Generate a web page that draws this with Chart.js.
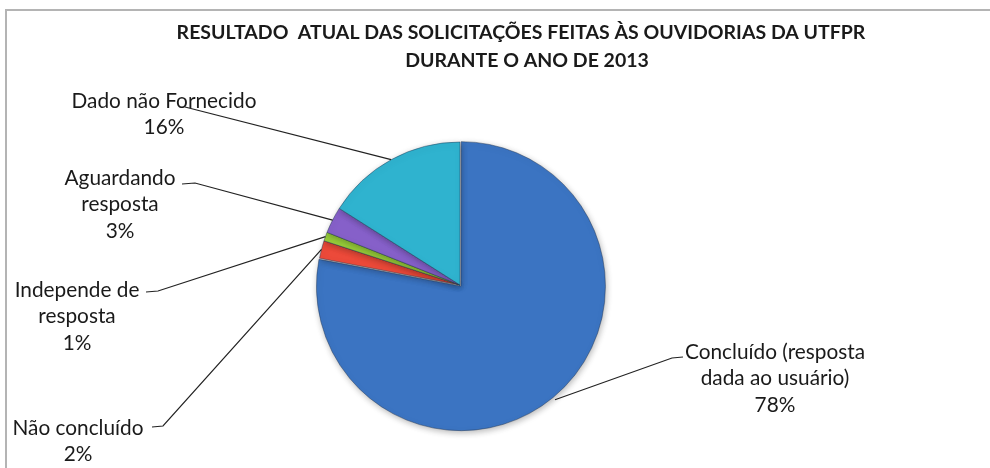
<!DOCTYPE html>
<html>
<head>
<meta charset="utf-8">
<script src="https://cdn.jsdelivr.net/npm/chart.js@4.4.0/dist/chart.umd.min.js"></script>
<style>
  html, body { margin: 0; padding: 0; background: #ffffff; }
  #wrap { width: 990px; height: 468px; position: relative; }
</style>
</head>
<body>
<div id="wrap"><canvas id="pieChart" width="990" height="468"></canvas></div>
<script>
// Chart data
const categories = [
    'Concluído (resposta dada ao usuário)',
    'Não concluído',
    'Independe de resposta',
    'Aguardando resposta',
    'Dado não Fornecido'
];
const percentages = [78, 2, 1, 3, 16];
const sliceColors = ['#3b74c2', '#ec4a3a', '#98cf3a', '#8660c9', '#2fb3cf'];
const titleLines = [
    'RESULTADO  ATUAL DAS SOLICITAÇÕES FEITAS ÀS OUVIDORIAS DA UTFPR',
    'DURANTE O ANO DE 2013'
];
// category names split the way they are printed next to the pie
const labelLines = [
    ['Concluído (resposta', 'dada ao usuário)'],
    ['Não concluído'],
    ['Independe de', 'resposta'],
    ['Aguardando', 'resposta'],
    ['Dado não Fornecido']
];

// Layout
const PIE_X = 460, PIE_Y = 285, PIE_R = 143;
const SLICE_BORDER = 1;
const SLICE_OFFSET = [6, 0, 0, 0, 0];
const LINE_HEIGHT = 26.5;
const LABEL_FONT = '20.8px Lato, "Open Sans", sans-serif';
const TITLE_FONT = 'bold 19.5px Lato, "Open Sans", sans-serif';

// text centre x, first line centre y, leader elbow and leader end
const labelLayout = [
    { x: 775, y: 352, elbow: [672, 358], end: [683, 357] },
    { x: 78, y: 428, elbow: [163, 426], end: [152, 427] },
    { x: 77, y: 290, elbow: [158, 291], end: [146, 292] },
    { x: 120, y: 178, elbow: [195, 183], end: [182, 184] },
    { x: 164, y: 101, elbow: null, end: [185, 107] }
];

const spacing = SLICE_BORDER + Math.max(...SLICE_OFFSET);
const pieSize = 2 * PIE_R + spacing;
const padLeft = PIE_X - pieSize / 2;
const padTop = PIE_Y - pieSize / 2;

// frame and title behind the pie
const framePlugin = {
    id: 'frame',
    beforeDraw(chart) {
        const ctx = chart.ctx;
        ctx.save();
        ctx.fillStyle = '#ffffff';
        ctx.fillRect(0, 0, chart.width, chart.height);
        ctx.fillStyle = '#b4b4b4';
        ctx.fillRect(5, 9, chart.width - 5, 2);
        ctx.fillRect(5, 9, 2, chart.height - 9);
        ctx.fillStyle = '#1a1a1a';
        ctx.font = TITLE_FONT;
        ctx.textAlign = 'center';
        ctx.textBaseline = 'middle';
        ctx.fillText(titleLines[0], 521, 33);
        ctx.fillText(titleLines[1], 527, 61);
        ctx.restore();
    },
    // soft shadow under the pie
    beforeDatasetsDraw(chart) {
        const ctx = chart.ctx;
        ctx.save();
        ctx.shadowColor = 'rgba(0, 0, 0, 0.28)';
        ctx.shadowBlur = 6;
        ctx.shadowOffsetX = 1;
        ctx.shadowOffsetY = 2;
    },
    afterDatasetsDraw(chart) {
        chart.ctx.restore();
    }
};

// leader lines and category labels
const labelPlugin = {
    id: 'pieLabels',
    afterDatasetsDraw(chart) {
        const ctx = chart.ctx;
        const arcs = chart.getDatasetMeta(0).data;
        ctx.save();
        arcs.forEach((arc, i) => {
            const p = arc.getProps(['x', 'y', 'startAngle', 'endAngle', 'outerRadius'], true);
            const mid = (p.startAngle + p.endAngle) / 2;
            const off = SLICE_OFFSET[i];
            const ex = p.x + Math.cos(mid) * (p.outerRadius + off);
            const ey = p.y + Math.sin(mid) * (p.outerRadius + off);
            const lay = labelLayout[i];

            ctx.strokeStyle = '#222222';
            ctx.lineWidth = 1.2;
            ctx.beginPath();
            ctx.moveTo(ex, ey);
            if (lay.elbow) ctx.lineTo(lay.elbow[0], lay.elbow[1]);
            ctx.lineTo(lay.end[0], lay.end[1]);
            ctx.stroke();

            const lines = labelLines[i].concat([percentages[i] + '%']);
            ctx.fillStyle = '#1a1a1a';
            ctx.font = LABEL_FONT;
            ctx.textAlign = 'center';
            ctx.textBaseline = 'middle';
            lines.forEach((t, k) => ctx.fillText(t, lay.x, lay.y + k * LINE_HEIGHT));
        });
        ctx.restore();
    }
};

const ctx = document.getElementById('pieChart').getContext('2d');
new Chart(ctx, {
    type: 'pie',
    data: {
        labels: categories,
        datasets: [{
            data: percentages,
            backgroundColor: sliceColors,
            borderColor: 'rgba(30, 50, 80, 0.45)',
            borderWidth: SLICE_BORDER,
            hoverBorderWidth: SLICE_BORDER,
            offset: SLICE_OFFSET,
            hoverOffset: 0
        }]
    },
    options: {
        responsive: false,
        animation: false,
        events: [],
        layout: {
            padding: {
                left: padLeft,
                top: padTop,
                right: 990 - padLeft - pieSize,
                bottom: 468 - padTop - pieSize
            }
        },
        plugins: {
            legend: { display: false },
            title: { display: false },
            tooltip: { enabled: false }
        }
    },
    plugins: [framePlugin, labelPlugin]
});
</script>
</body>
</html>
